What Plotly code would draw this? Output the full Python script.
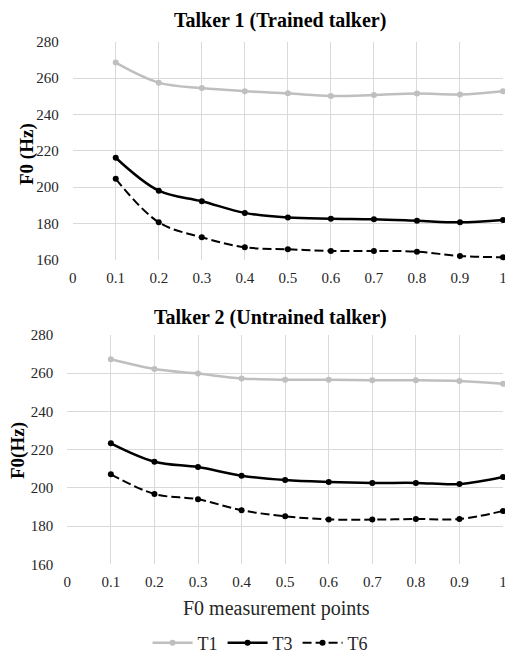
import plotly.graph_objects as go

x_points = [0.1, 0.2, 0.3, 0.4, 0.5, 0.6, 0.7, 0.8, 0.9, 1.0]
x_ticks = [0, 0.1, 0.2, 0.3, 0.4, 0.5, 0.6, 0.7, 0.8, 0.9, 1.0]
x_tick_labels = ["0", "0.1", "0.2", "0.3", "0.4", "0.5", "0.6", "0.7", "0.8", "0.9", "1"]
y_ticks = [160, 180, 200, 220, 240, 260, 280]

talker1_T1 = [268.5, 257.5, 254.5, 252.8, 251.6, 250.2, 250.7, 251.5, 251.0, 252.8]
talker1_T3 = [216.2, 198.1, 192.3, 185.9, 183.3, 182.7, 182.4, 181.6, 180.7, 182.0]
talker1_T6 = [204.6, 180.7, 172.5, 167.0, 165.9, 165.0, 165.0, 164.6, 162.2, 161.5]

talker2_T1 = [267.3, 262.2, 259.8, 257.3, 256.6, 256.6, 256.3, 256.3, 255.9, 254.5]
talker2_T3 = [223.3, 213.7, 210.9, 206.4, 204.1, 203.1, 202.6, 202.6, 202.0, 205.7]
talker2_T6 = [207.1, 196.8, 194.0, 188.3, 185.1, 183.5, 183.4, 183.7, 183.7, 187.9]

series_names = ["T1", "T3", "T6"]
FONT = "Liberation Serif"
W, H = 505, 651

styles = {
    "T1": dict(line=dict(color="#BFBFBF", width=2.5, shape="spline"),
               marker=dict(color="#BFBFBF", size=6)),
    "T3": dict(line=dict(color="#000000", width=2.5, shape="spline"),
               marker=dict(color="#000000", size=6)),
    "T6": dict(line=dict(color="#000000", width=2, shape="spline", dash="9px,4px"),
               marker=dict(color="#000000", size=6)),
}

fig = go.Figure()
for name, ys in zip(series_names, [talker1_T1, talker1_T3, talker1_T6]):
    fig.add_trace(go.Scatter(x=x_points, y=ys, mode="lines+markers", name=name,
                             xaxis="x", yaxis="y", showlegend=True, cliponaxis=False,
                             **styles[name]))
for name, ys in zip(series_names, [talker2_T1, talker2_T3, talker2_T6]):
    fig.add_trace(go.Scatter(x=x_points, y=ys, mode="lines+markers", name=name,
                             xaxis="x2", yaxis="y2", showlegend=False, cliponaxis=False,
                             **styles[name]))

def px_x(p):
    return p / W

def px_y(p):
    return 1 - p / H

axis_common = dict(showgrid=True, gridcolor="#D9D9D9", gridwidth=1, zeroline=False,
                   showline=False, ticks="", automargin=False, ticklabeloverflow="allow",
                   tickfont=dict(family=FONT, size=15, color="#262626"))

fig.update_layout(
    template="none",
    width=W, height=H,
    margin=dict(l=0, r=0, t=0, b=0, pad=0, autoexpand=False),
    paper_bgcolor="white", plot_bgcolor="white",
    font=dict(family=FONT, color="#000000"),
    xaxis=dict(domain=[px_x(72.7), px_x(503)], range=[0, 1], anchor="y",
               tickvals=x_ticks, ticktext=x_tick_labels, ticklabelstandoff=7, **axis_common),
    yaxis=dict(domain=[px_y(260), px_y(41.7)], range=[160, 280], anchor="x",
               tickvals=y_ticks, ticklabelstandoff=13, **axis_common),
    xaxis2=dict(domain=[px_x(67.3), px_x(503)], range=[0, 1], anchor="y2",
                tickvals=x_ticks, ticktext=x_tick_labels, ticklabelstandoff=7, **axis_common),
    yaxis2=dict(domain=[px_y(564.3), px_y(335)], range=[160, 280], anchor="x2",
                tickvals=y_ticks, ticklabelstandoff=13, **axis_common),
    showlegend=True,
    legend=dict(orientation="h", x=0.515, xanchor="center", y=px_y(643), yanchor="middle",
                font=dict(family=FONT, size=18, color="#262626"), itemwidth=40,
                bgcolor="rgba(0,0,0,0)"),
    annotations=[
        dict(text="<b>Talker 1 (Trained talker)</b>", x=px_x(280), y=px_y(21),
             xref="paper", yref="paper", showarrow=False, xanchor="center", yanchor="middle",
             font=dict(family=FONT, size=20, color="#000000")),
        dict(text="<b>Talker 2 (Untrained talker)</b>", x=px_x(270), y=px_y(317),
             xref="paper", yref="paper", showarrow=False, xanchor="center", yanchor="middle",
             font=dict(family=FONT, size=20, color="#000000")),
        dict(text="<b>F0 (Hz)</b>", x=px_x(27), y=px_y(154), textangle=-90,
             xref="paper", yref="paper", showarrow=False, xanchor="center", yanchor="middle",
             font=dict(family=FONT, size=19, color="#000000")),
        dict(text="<b>F0(Hz)</b>", x=px_x(18), y=px_y(451), textangle=-90,
             xref="paper", yref="paper", showarrow=False, xanchor="center", yanchor="middle",
             font=dict(family=FONT, size=19, color="#000000")),
        dict(text="F0 measurement points", x=px_x(276), y=px_y(608),
             xref="paper", yref="paper", showarrow=False, xanchor="center", yanchor="middle",
             font=dict(family=FONT, size=20, color="#262626")),
    ],
)

post = (
    "document.documentElement.style.margin='0';"
    "document.documentElement.style.overflow='hidden';"
    "document.body.style.margin='0';"
    "document.body.style.overflow='hidden';"
)
fig.write_html("out.html", config={"displayModeBar": False}, post_script=post)
